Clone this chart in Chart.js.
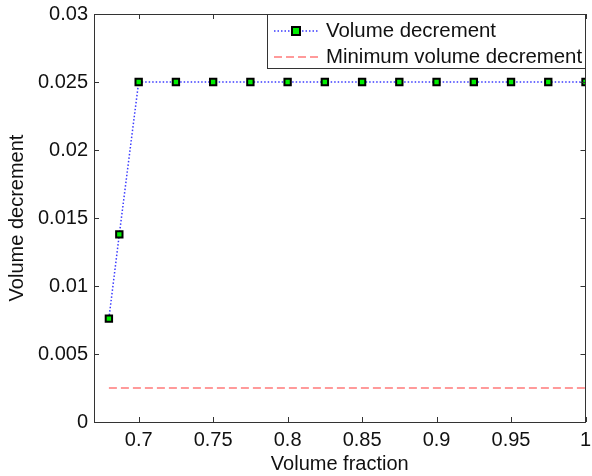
<!DOCTYPE html>
<html>
<head>
<meta charset="utf-8">
<script src="https://cdn.jsdelivr.net/npm/chart.js@4/dist/chart.umd.min.js"></script>
<style>
  html, body { margin: 0; padding: 0; background: #fff; }
  #wrap { width: 592px; height: 476px; }
</style>
</head>
<body>
<div id="wrap"><canvas id="chart" width="592" height="476"></canvas></div>
<script>
// Datos
const volFraction = [0.68, 0.687, 0.7, 0.725, 0.75, 0.775, 0.8, 0.825, 0.85, 0.875, 0.9, 0.925, 0.95, 0.975, 1.0];
const volDecrement = [0.0076, 0.0138, 0.025, 0.025, 0.025, 0.025, 0.025, 0.025, 0.025, 0.025, 0.025, 0.025, 0.025, 0.025, 0.025];
const minFraction = [0.68, 1.0];
const minDecrement = [0.0025, 0.0025];

const xTicks = [0.7, 0.75, 0.8, 0.85, 0.9, 0.95, 1];
const xTickLabels = ['0.7', '0.75', '0.8', '0.85', '0.9', '0.95', '1'];
const yTicks = [0, 0.005, 0.01, 0.015, 0.02, 0.025, 0.03];
const yTickLabels = ['0', '0.005', '0.01', '0.015', '0.02', '0.025', '0.03'];

const seriesNames = ['Volume decrement', 'Minimum volume decrement'];

const FAMILY = '"Liberation Sans", Arial, sans-serif';
const BLUE = '#3a3aff';
const RED = '#ff7a7a';

// Caja y marcas hacia adentro, estilo MATLAB
const boxPlugin = {
    id: 'boxTicks',
    afterDatasetsDraw(chart) {
        const ctx = chart.ctx;
        const a = chart.chartArea;
        const xs = chart.scales.x;
        const ys = chart.scales.y;
        ctx.save();
        ctx.strokeStyle = '#333';
        ctx.lineWidth = 1;
        ctx.beginPath();
        xTicks.forEach(v => {
            const px = Math.round(xs.getPixelForValue(v)) + 0.5;
            ctx.moveTo(px, a.bottom); ctx.lineTo(px, a.bottom - 5);
            ctx.moveTo(px, a.top); ctx.lineTo(px, a.top + 5);
        });
        yTicks.forEach(v => {
            const py = Math.round(ys.getPixelForValue(v)) + 0.5;
            ctx.moveTo(a.left, py); ctx.lineTo(a.left + 5, py);
            ctx.moveTo(a.right, py); ctx.lineTo(a.right - 5, py);
        });
        ctx.stroke();
        ctx.strokeRect(Math.round(a.left) + 0.5, Math.round(a.top) + 0.5,
            Math.round(a.right - a.left) - 1, Math.round(a.bottom - a.top));
        ctx.restore();
    },
    afterDraw(chart) {
        // Leyenda dentro del área del gráfico
        const ctx = chart.ctx;
        const a = chart.chartArea;
        const lx = 267, ly = a.top, lw = 318, lh = 54;
        ctx.save();
        ctx.fillStyle = '#fff';
        ctx.fillRect(lx, ly, lw, lh);
        ctx.strokeStyle = '#333';
        ctx.lineWidth = 1;
        ctx.strokeRect(lx + 0.5, ly + 0.5, lw, lh);

        const rows = [ly + 17, ly + 43];
        // fila 1
        ctx.strokeStyle = BLUE;
        ctx.lineWidth = 1.5;
        ctx.setLineDash([1.5, 2]);
        ctx.beginPath();
        ctx.moveTo(274, rows[0]); ctx.lineTo(318, rows[0]);
        ctx.stroke();
        ctx.setLineDash([]);
        ctx.fillStyle = '#00ee00';
        ctx.strokeStyle = '#000';
        ctx.lineWidth = 2;
        ctx.fillRect(292, rows[0] - 4, 8, 8);
        ctx.strokeRect(292, rows[0] - 4, 8, 8);
        // fila 2
        ctx.strokeStyle = RED;
        ctx.lineWidth = 1.5;
        ctx.setLineDash([8, 4]);
        ctx.beginPath();
        ctx.moveTo(274, rows[1]); ctx.lineTo(320, rows[1]);
        ctx.stroke();
        ctx.setLineDash([]);

        ctx.fillStyle = '#111';
        ctx.font = '20.4px ' + FAMILY;
        ctx.textBaseline = 'middle';
        ctx.fillText(seriesNames[0], 326, rows[0]);
        ctx.fillText(seriesNames[1], 326, rows[1]);
        ctx.restore();
    }
};

const ctx = document.getElementById('chart').getContext('2d');
const chart = new Chart(ctx, {
    type: 'scatter',
    data: {
        datasets: [{
            label: seriesNames[0],
            data: volFraction.map((x, i) => ({ x: x, y: volDecrement[i] })),
            showLine: true,
            borderColor: BLUE,
            borderWidth: 1.5,
            borderDash: [1.5, 2],
            pointStyle: 'rect',
            pointRadius: 4.5,
            pointBorderWidth: 2,
            pointBorderColor: '#000',
            pointBackgroundColor: '#00ee00',
            clip: 0
        }, {
            label: seriesNames[1],
            data: minFraction.map((x, i) => ({ x: x, y: minDecrement[i] })),
            showLine: true,
            borderColor: RED,
            borderWidth: 1.5,
            borderDash: [8, 4],
            pointRadius: 0,
            clip: 0
        }]
    },
    options: {
        responsive: false,
        animation: false,
        layout: { padding: { left: 0, top: 14, right: 2, bottom: 0 } },
        plugins: {
            legend: { display: false },
            tooltip: { enabled: false }
        },
        scales: {
            x: {
                type: 'linear',
                min: 0.67,
                max: 1.0,
                grid: { display: false, drawTicks: false },
                border: { display: false },
                afterBuildTicks: s => { s.ticks = xTicks.map(v => ({ value: v })); },
                afterFit: s => { s.height = 54; s.paddingLeft = 0; s.paddingRight = 0; },
                ticks: {
                    color: '#111',
                    font: { family: FAMILY, size: 20 },
                    padding: 6,
                    maxRotation: 0,
                    callback: (v, i) => xTickLabels[i]
                },
                title: {
                    display: true,
                    text: 'Volume fraction',
                    color: '#111',
                    font: { family: FAMILY, size: 20 },
                    padding: { top: 0, bottom: 0 }
                }
            },
            y: {
                type: 'linear',
                min: 0,
                max: 0.03,
                grid: { display: false, drawTicks: false },
                border: { display: false },
                afterBuildTicks: s => { s.ticks = yTicks.map(v => ({ value: v })); },
                afterFit: s => { s.width = 94; s.paddingTop = 0; s.paddingBottom = 0; },
                ticks: {
                    color: '#111',
                    font: { family: FAMILY, size: 20 },
                    padding: 6,
                    callback: (v, i) => yTickLabels[i]
                },
                title: {
                    display: true,
                    text: 'Volume decrement',
                    color: '#111',
                    font: { family: FAMILY, size: 20 },
                    padding: { top: 5, bottom: 0 }
                }
            }
        }
    },
    plugins: [boxPlugin]
});
</script>
</body>
</html>
